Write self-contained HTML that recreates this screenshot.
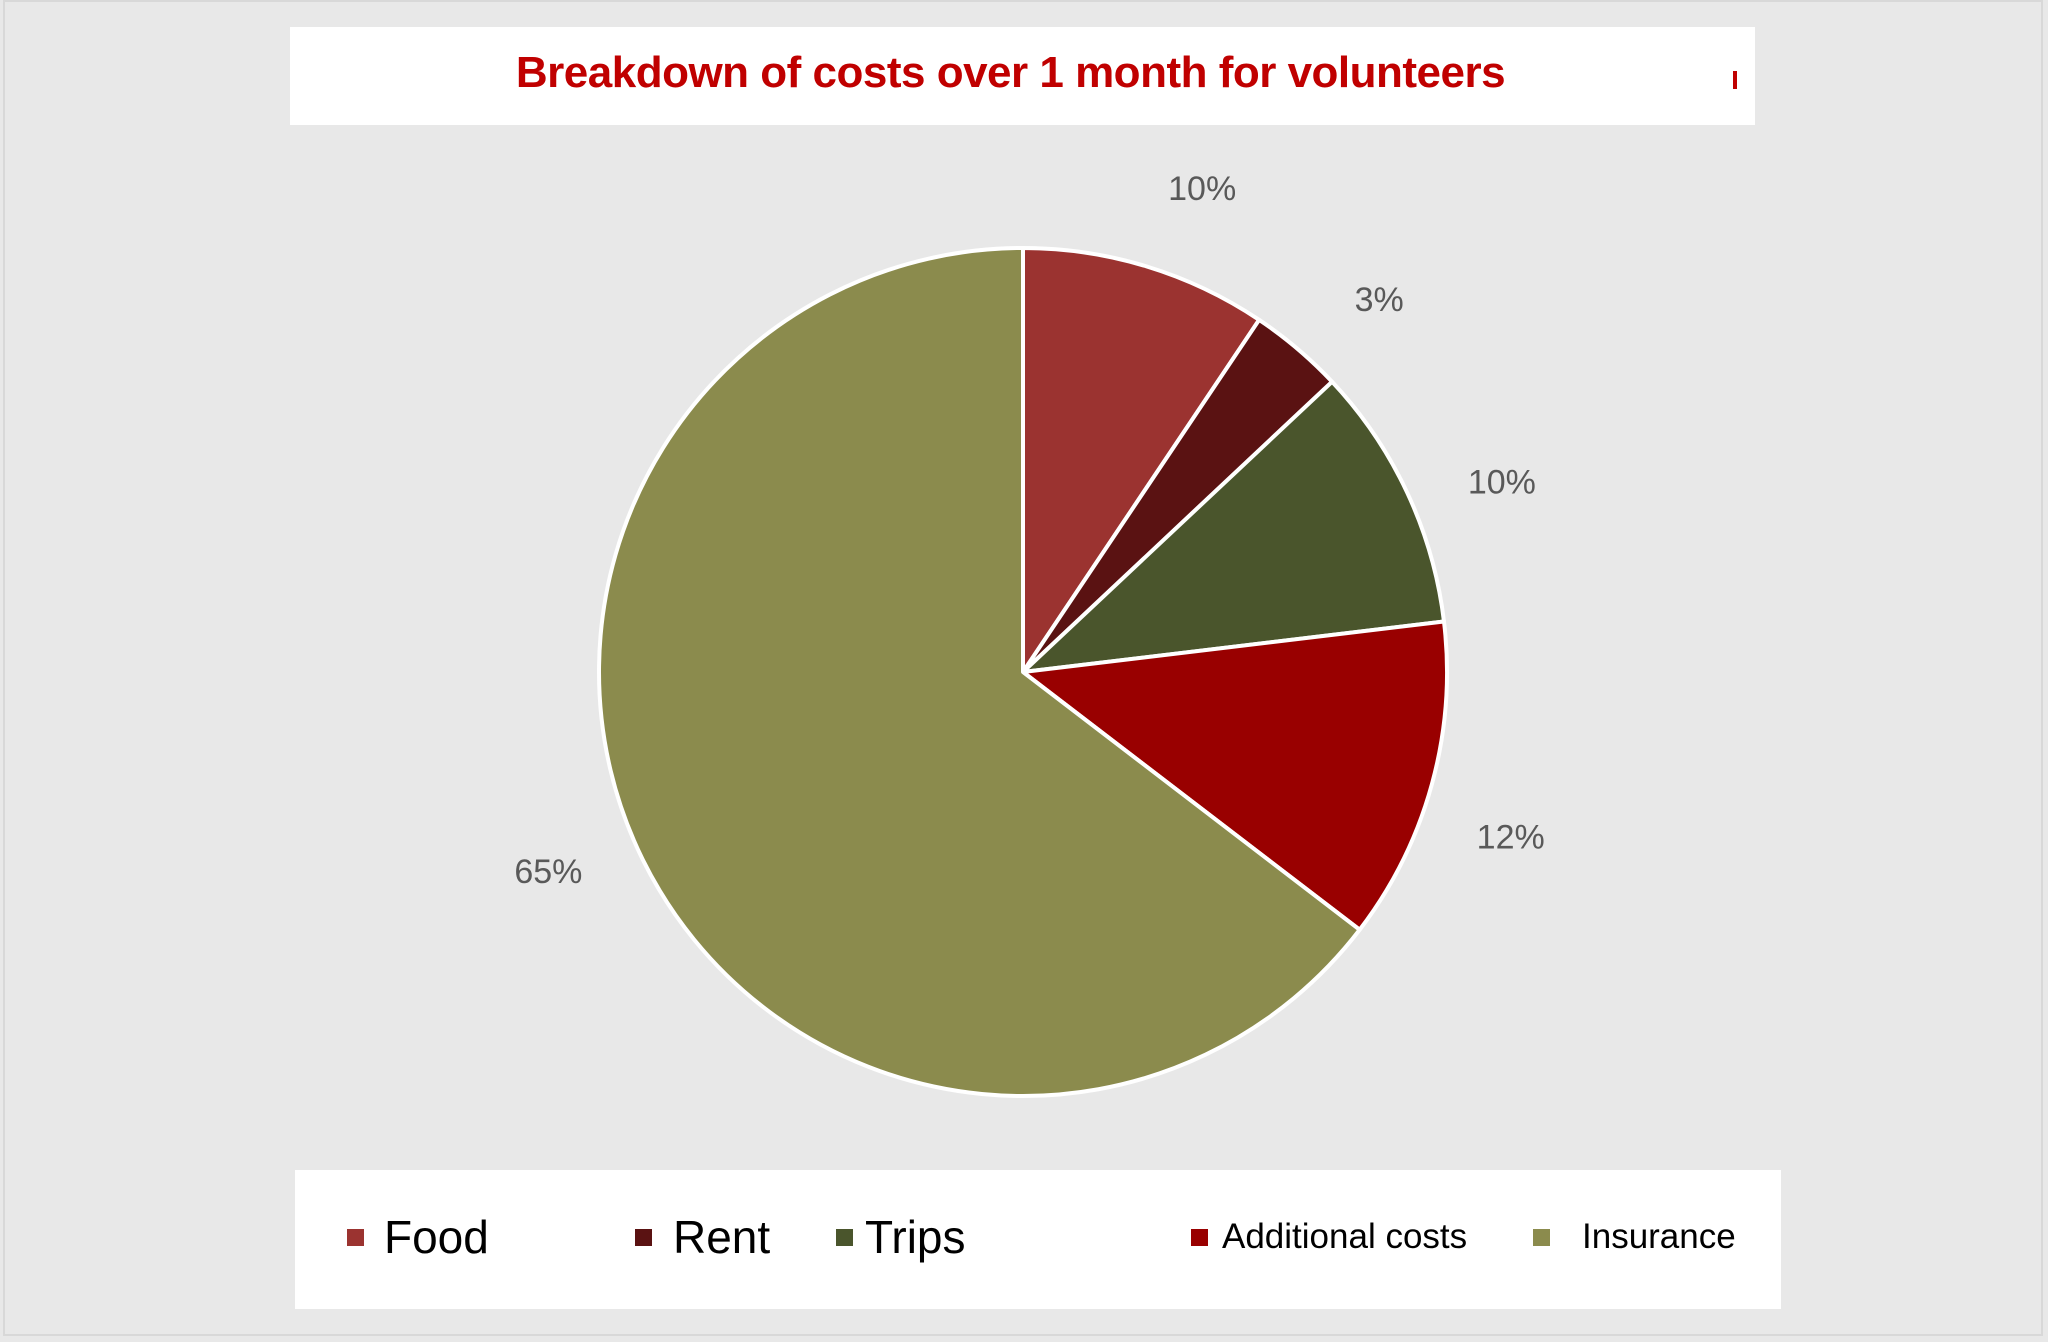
<!DOCTYPE html>
<html><head><meta charset="utf-8"><style>
html,body{margin:0;padding:0;}
body{width:2048px;height:1342px;background:#e8e8e8;position:relative;overflow:hidden;font-family:"Liberation Sans Narrow","Liberation Sans",sans-serif;}
#frame{position:absolute;left:3px;top:0;width:2040px;height:1336px;border:2px solid #d8d8d8;box-sizing:border-box;}
#title-box{position:absolute;left:290px;top:27px;width:1465px;height:98px;background:#fff;}
#title{position:absolute;left:0;top:0;width:1465px;text-align:center;line-height:92px;margin-left:-12px;font-family:"Liberation Sans",sans-serif;font-weight:bold;font-size:44px;color:#c00000;letter-spacing:-0.5px;}
#legend-box{position:absolute;left:295px;top:1170px;width:1486px;height:139px;background:#fff;}
.li{position:absolute;top:1212px;color:#000;line-height:50px;white-space:nowrap;}
.mk{position:absolute;width:17px;height:17px;}
</style></head><body>
<div id="frame"></div>
<div id="title-box"><div id="title">Breakdown of costs over 1 month for volunteers</div>
<div style="position:absolute;left:1443px;top:44px;width:4px;height:18px;background:#c00000"></div></div>
<svg id="pie" width="2048" height="1342" style="position:absolute;left:0;top:0"></svg>
<div id="legend-box"></div>
<div id="legend-items"></div>
<script>
const categories=["Food","Rent","Trips","Additional costs","Insurance"];
const values=[9.4,3.6,10.1,12.3,64.6];
const valueLabels=["10%","3%","10%","12%","65%"];
const colors=["#9b3330","#5a1212","#4a552c","#990000","#8b8b4d"];
const NS="http://www.w3.org/2000/svg";
const svg=document.getElementById('pie');
const cx=1023,cy=672,r=424,lr=515;
const total=values.reduce((a,b)=>a+b,0);
function pt(a,rad){return [cx+rad*Math.sin(a),cy-rad*Math.cos(a)];}
let acc=0;
values.forEach((v,i)=>{
  const a0=acc/total*2*Math.PI; acc+=v; const a1=acc/total*2*Math.PI;
  const p0=pt(a0,r),p1=pt(a1,r);
  const large=(a1-a0)>Math.PI?1:0;
  const path=document.createElementNS(NS,'path');
  path.setAttribute('d',`M${cx},${cy} L${p0[0]},${p0[1]} A${r},${r} 0 ${large} 1 ${p1[0]},${p1[1]} Z`);
  path.setAttribute('fill',colors[i]);
  path.setAttribute('stroke','#fff');
  path.setAttribute('stroke-width','4');
  path.setAttribute('stroke-linejoin','round');
  
  
  svg.appendChild(path);
  const am=(a0+a1)/2+0.06, lp=pt(am,lr);
  const t=document.createElementNS(NS,'text');
  t.setAttribute('x',lp[0]);t.setAttribute('y',lp[1]);
  t.setAttribute('text-anchor','middle');t.setAttribute('dominant-baseline','central');
  t.setAttribute('font-family','"Liberation Sans Narrow","Liberation Sans",sans-serif');
  t.setAttribute('font-size','34');t.setAttribute('fill','#595959');
  t.textContent=valueLabels[i];
  
  
  svg.appendChild(t);
});
const legX=[347,635,836,1191,1533];
const legTX=[384,673,865,1222,1582];
const legFS=[46,46,46,35,35];
const li=document.getElementById('legend-items');
categories.forEach((c,i)=>{
  const m=document.createElement('div');
  m.className='mk';m.style.left=legX[i]+'px';m.style.top='1229px';m.style.background=colors[i];
  
  
  li.appendChild(m);
  const t=document.createElement('div');
  t.className='li';t.style.left=legTX[i]+'px';t.style.fontSize=legFS[i]+'px';
  t.textContent=c;
  
  
  li.appendChild(t);
});
</script>
</body></html>
